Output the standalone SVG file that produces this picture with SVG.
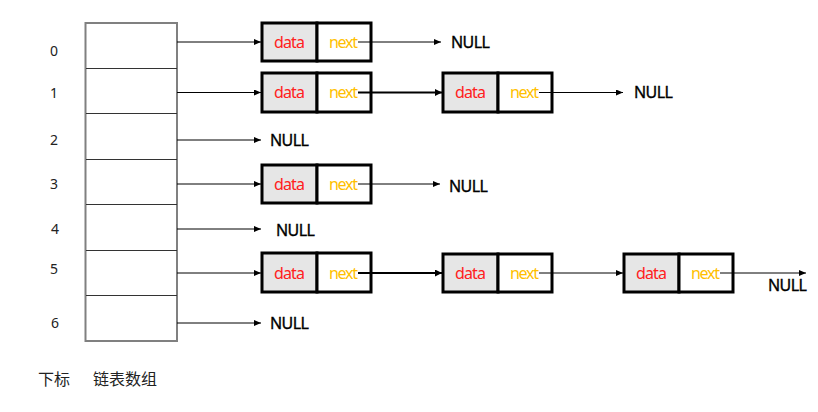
<svg xmlns="http://www.w3.org/2000/svg" width="818" height="412" viewBox="0 0 818 412">
<style>
.idx{font-family:"Noto Sans","Liberation Sans",sans-serif;font-size:14px;fill:#222;text-anchor:middle}
.cn{font-family:"Noto Sans CJK SC",sans-serif;font-size:16px;fill:#222}
.cell{stroke:#000;stroke-width:3}
.d{fill:#e6e6e6}
.n{fill:#fff}
.dt{font-family:"Noto Sans","Liberation Sans",sans-serif;font-size:16px;fill:#ff2020}
.nt{font-family:"Noto Sans","Liberation Sans",sans-serif;font-size:16px;fill:#ffc000}
.null{font-family:"Noto Sans","Liberation Sans",sans-serif;font-size:16px;fill:#000;stroke:#000;stroke-width:0.35}
.ln{stroke:#000;stroke-width:1;fill:none;marker-end:url(#ah)}
.lnb{stroke:#000;stroke-width:2;fill:none;marker-end:url(#ahb)}
.row{stroke:#333;stroke-width:1;fill:none}
</style>
<defs>
<marker id="ah" markerUnits="userSpaceOnUse" markerWidth="8" markerHeight="6" refX="7" refY="3" orient="auto"><path d="M0,0 L7,3 L0,6 Z" fill="#000"/></marker>
<marker id="ahb" markerUnits="userSpaceOnUse" markerWidth="8" markerHeight="7" refX="7" refY="3.5" orient="auto"><path d="M0,0 L7,3.5 L0,7 Z" fill="#000"/></marker>
</defs>
<g id="array">
<rect x="85.5" y="23" width="91.5" height="318" fill="#fff" stroke="#808080" stroke-width="2"/>
<line class="row" x1="86" y1="68.5" x2="177" y2="68.5"/>
<line class="row" x1="86" y1="113.5" x2="177" y2="113.5"/>
<line class="row" x1="86" y1="159.5" x2="177" y2="159.5"/>
<line class="row" x1="86" y1="204.5" x2="177" y2="204.5"/>
<line class="row" x1="86" y1="250.5" x2="177" y2="250.5"/>
<line class="row" x1="86" y1="295.5" x2="177" y2="295.5"/>
</g>
<g id="indices">
<text class="idx" x="54" y="56">0</text>
<text class="idx" x="54" y="98">1</text>
<text class="idx" x="54" y="145">2</text>
<text class="idx" x="54" y="189">3</text>
<text class="idx" x="55" y="234">4</text>
<text class="idx" x="54" y="274">5</text>
<text class="idx" x="55" y="328">6</text>
</g>
<g id="n0a"><rect class="cell d" x="262" y="23" width="55" height="38"/><rect class="cell n" x="317" y="23" width="54" height="38"/><text class="dt" x="274" y="48" textLength="31">data</text><text class="nt" x="329" y="48" textLength="29">next</text></g>
<g id="n1a"><rect class="cell d" x="262" y="73" width="55" height="39"/><rect class="cell n" x="317" y="73" width="54" height="39"/><text class="dt" x="274" y="98" textLength="31">data</text><text class="nt" x="329" y="98" textLength="29">next</text></g>
<g id="n1b"><rect class="cell d" x="443" y="73" width="55" height="39"/><rect class="cell n" x="498" y="73" width="54" height="39"/><text class="dt" x="455" y="98" textLength="31">data</text><text class="nt" x="510" y="98" textLength="29">next</text></g>
<g id="n3a"><rect class="cell d" x="262" y="165" width="55" height="38"/><rect class="cell n" x="317" y="165" width="54" height="38"/><text class="dt" x="274" y="190" textLength="31">data</text><text class="nt" x="329" y="190" textLength="29">next</text></g>
<g id="n5a"><rect class="cell d" x="262" y="253" width="55" height="39"/><rect class="cell n" x="317" y="253" width="54" height="39"/><text class="dt" x="274" y="279" textLength="31">data</text><text class="nt" x="329" y="279" textLength="29">next</text></g>
<g id="n5b"><rect class="cell d" x="443" y="254" width="55" height="38"/><rect class="cell n" x="498" y="254" width="54" height="38"/><text class="dt" x="455" y="279" textLength="31">data</text><text class="nt" x="510" y="279" textLength="29">next</text></g>
<g id="n5c"><rect class="cell d" x="624" y="254" width="55" height="38"/><rect class="cell n" x="679" y="254" width="54" height="38"/><text class="dt" x="636" y="279" textLength="31">data</text><text class="nt" x="691" y="279" textLength="29">next</text></g>
<g id="nulls">
<text class="null" x="451" y="47.5" textLength="39">NULL</text>
<text class="null" x="634" y="98" textLength="39">NULL</text>
<text class="null" x="270" y="146" textLength="39">NULL</text>
<text class="null" x="449" y="192" textLength="39">NULL</text>
<text class="null" x="276" y="236" textLength="39">NULL</text>
<text class="null" x="768" y="291" textLength="39">NULL</text>
<text class="null" x="270" y="329" textLength="39">NULL</text>
</g>
<g id="connectors">
<line class="ln" x1="177" y1="42" x2="261" y2="42"/>
<line class="ln" x1="358" y1="42" x2="441" y2="42"/>
<line class="ln" x1="177" y1="92.5" x2="261" y2="92.5"/>
<line class="lnb" x1="358" y1="92.5" x2="442" y2="92.5"/>
<line class="ln" x1="539" y1="92.5" x2="623" y2="92.5"/>
<line class="ln" x1="177" y1="140" x2="261" y2="140"/>
<line class="ln" x1="177" y1="184" x2="261" y2="184"/>
<line class="ln" x1="358" y1="184" x2="440" y2="184"/>
<line class="ln" x1="177" y1="229" x2="261" y2="229"/>
<line class="ln" x1="177" y1="273" x2="261" y2="273"/>
<line class="lnb" x1="358" y1="273" x2="442" y2="273"/>
<line class="ln" x1="539" y1="273" x2="623" y2="273"/>
<line class="ln" x1="720" y1="273" x2="806" y2="273"/>
<line class="ln" x1="177" y1="323" x2="261" y2="323"/>
</g>
<g id="captions">
<text class="cn" x="38" y="385">下标</text>
<text class="cn" x="93" y="385">链表数组</text>
</g>
</svg>
